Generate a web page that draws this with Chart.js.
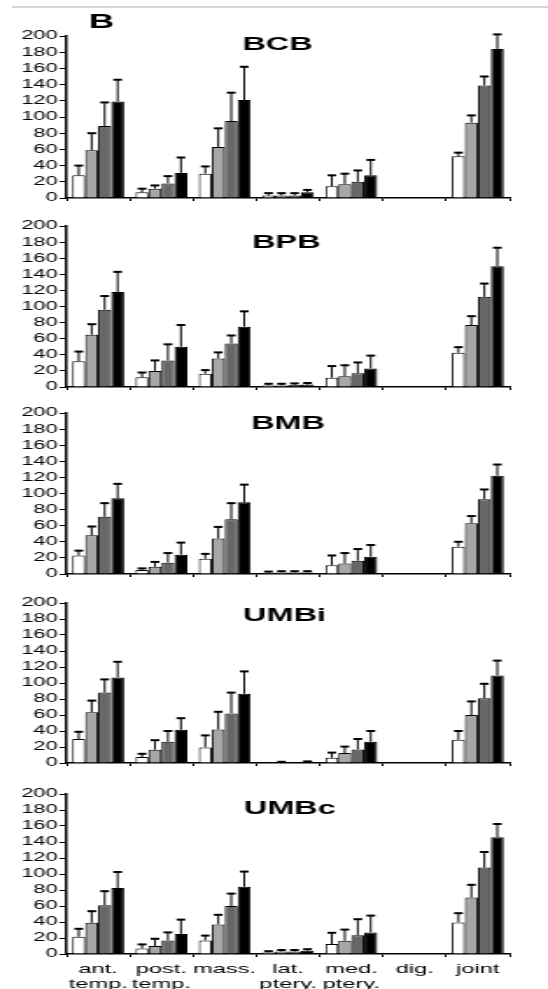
<!DOCTYPE html>
<html>
<head>
<meta charset="utf-8">
<script src="https://cdn.jsdelivr.net/npm/chart.js@4.4.1/dist/chart.umd.min.js"></script>
<style>
  html, body { margin: 0; padding: 0; background: #fff; }
  body { width: 548px; height: 989px; position: relative; overflow: hidden; }
  .rule { position: absolute; top: 6px; left: 12px; right: 0; height: 2px; background: #d6d6d6; }
  canvas { position: absolute; left: 0; }
</style>
</head>
<body>
<div class="rule"></div>
<div id="panels"></div>
<script>
// categories along x, shared by all five panels
const categories = [['ant.', 'temp.'], ['post.', 'temp.'], 'mass.', ['lat.', 'ptery.'], ['med.', 'ptery.'], 'dig.', 'joint'];
const yTicks = [0, 20, 40, 60, 80, 100, 120, 140, 160, 180, 200];
const panelNames = ['BCB', 'BPB', 'BMB', 'UMBi', 'UMBc'];
const seriesNames = ['series 1', 'series 2', 'series 3', 'series 4'];

// means (one row per series: white, light grey, dark grey, black)
const bcbMeans = [
  [28, 7, 30, 3, 14.5, 0, 51.5],
  [59, 11.5, 63, 3, 17, 0, 93],
  [89, 18, 95, 3, 20, 0, 139],
  [119, 31, 121, 7, 28, 1, 184]
];
const bcbErrors = [
  [12, 4.5, 9, 3, 13.5, 0, 4.5],
  [21, 4, 23, 3, 13, 0, 9],
  [29, 9, 35, 3, 14, 0, 11],
  [27, 19, 41, 3, 19, 0, 18]
];
const bpbMeans = [
  [32, 12, 16.5, 2, 11.5, 0, 42.5],
  [65, 20, 35.5, 2, 13.5, 0, 77],
  [96, 33, 54, 2.5, 17, 0, 112],
  [118, 50, 75, 3, 23, 1, 150]
];
const bpbErrors = [
  [12, 6, 4.5, 2, 14.5, 0, 7],
  [13, 13, 7.5, 2, 13.5, 0, 11],
  [17, 20, 10, 2, 13.5, 0, 16.5],
  [25, 27, 19, 2, 16, 0, 23]
];
const bmbMeans = [
  [23, 5, 19, 1.5, 11, 0, 34],
  [48, 9, 44, 2, 13, 0.5, 63],
  [71, 14, 68, 2, 16.5, 0, 93],
  [94, 24, 89, 2, 21.5, 0, 122]
];
const bmbErrors = [
  [6, 2, 6, 1.5, 12, 0, 6],
  [11, 6, 14.5, 1.5, 13, 0, 9],
  [17, 12, 20, 1.5, 14.5, 0, 12],
  [18, 15, 22, 1.5, 14.5, 0, 14]
];
const umbiMeans = [
  [30, 7.5, 19.5, 0.5, 6.5, 0, 29],
  [63.5, 16.5, 42, 1, 12.5, 0, 60],
  [88, 26.5, 62, 0.5, 17, 0, 81],
  [107, 41.5, 86.5, 1.5, 26.5, 0, 109.5]
];
const umbiErrors = [
  [9, 4, 15, 0, 6.5, 0, 11],
  [14.5, 12, 22, 0.5, 8, 0, 17],
  [16.5, 13.5, 26, 0, 13, 0, 18],
  [19.5, 14.5, 28, 0.5, 13.5, 0, 18.5]
];
const umbcMeans = [
  [21.5, 7, 17, 2, 12.5, 0, 39.5],
  [39, 10, 37, 3, 16.5, 0, 70.5],
  [61, 17, 60, 3, 23.5, 0, 108],
  [82.5, 25, 84, 4, 27, 0, 146]
];
const umbcErrors = [
  [10, 5, 6, 1.5, 14, 0, 11.5],
  [14.5, 9, 12, 2, 14, 0, 16],
  [17.5, 10, 15.5, 2, 20, 0, 19.5],
  [20, 18, 19, 2, 21, 0, 16.5]
];

const allMeans = [bcbMeans, bpbMeans, bmbMeans, umbiMeans, umbcMeans];
const allErrors = [bcbErrors, bpbErrors, bmbErrors, umbiErrors, umbcErrors];

const fills = ['#ffffff', '#a6a6a6', '#676767', '#000000'];
const FONT = '"Liberation Sans", Arial, sans-serif';

// the original figure is stretched sideways, so each canvas is drawn narrow and widened by css
const canvasW = 313;
const frames = [
  { top: 0,   height: 210, padTop: 36, axisH: 12, dx: -6, dy: 9 },
  { top: 210, height: 189, padTop: 16, axisH: 12, dx: -1, dy: 17 },
  { top: 399, height: 187, padTop: 14, axisH: 12, dx: 0,  dy: 11 },
  { top: 586, height: 189, padTop: 17, axisH: 12, dx: -2, dy: 13 },
  { top: 775, height: 214, padTop: 19, axisH: 35, dx: 1,  dy: 15 }
];

const errorBars = {
  id: 'errorBars',
  afterDatasetsDraw(chart) {
    const ctx = chart.ctx;
    const y = chart.scales.y;
    ctx.save();
    ctx.strokeStyle = '#000';
    chart.data.datasets.forEach((ds, i) => {
      chart.getDatasetMeta(i).data.forEach((bar, j) => {
        const sd = ds.errors[j];
        if (!sd) return;
        const base = y.getPixelForValue(ds.data[j]);
        const top = y.getPixelForValue(ds.data[j] + sd);
        ctx.lineWidth = 1;
        ctx.beginPath();
        ctx.moveTo(bar.x, base);
        ctx.lineTo(bar.x, top);
        ctx.stroke();
        ctx.lineWidth = 2;
        ctx.beginPath();
        ctx.moveTo(bar.x - 2.5, top);
        ctx.lineTo(bar.x + 2.5, top);
        ctx.stroke();
      });
    });
    ctx.restore();
  }
};

const panelText = {
  id: 'panelText',
  afterDraw(chart, args, opts) {
    const { ctx, chartArea } = chart;
    ctx.save();
    ctx.fillStyle = '#000';
    ctx.textAlign = 'center';
    ctx.textBaseline = 'middle';
    ctx.font = 'bold 18.5px ' + FONT;
    ctx.fillText(opts.title, (chartArea.left + chartArea.right) / 2 + opts.dx, chartArea.top + opts.dy);
    if (opts.letter) {
      ctx.font = 'bold 20px ' + FONT;
      ctx.fillText(opts.letter, 58, 22);
    }
    ctx.restore();
  }
};

const holder = document.getElementById('panels');

frames.forEach((f, p) => {
  const isLast = p === frames.length - 1;
  const canvas = document.createElement('canvas');
  canvas.width = canvasW;
  canvas.height = f.height;
  canvas.style.top = f.top + 'px';
  canvas.style.width = '548px';
  canvas.style.height = f.height + 'px';
  holder.appendChild(canvas);

  new Chart(canvas, {
    type: 'bar',
    data: {
      labels: categories,
      datasets: allMeans[p].map((m, k) => ({
        label: seriesNames[k],
        data: m,
        errors: allErrors[p][k],
        backgroundColor: fills[k],
        borderColor: '#000',
        borderWidth: 1,
        categoryPercentage: 0.82,
        barPercentage: 1
      }))
    },
    plugins: [errorBars, panelText],
    options: {
      responsive: false,
      animation: false,
      devicePixelRatio: 1,
      layout: { padding: { top: f.padTop, bottom: 0, left: 0, right: 22 } },
      plugins: {
        legend: { display: false },
        tooltip: { enabled: false },
        panelText: { title: panelNames[p], dx: f.dx, dy: f.dy, letter: p === 0 ? 'B' : '' }
      },
      scales: {
        x: {
          offset: true,
          grid: { drawOnChartArea: false, offset: true, tickLength: 3, color: '#000', lineWidth: 1 },
          border: { color: '#000', width: 1.5 },
          ticks: {
            display: isLast,
            color: '#000',
            font: { family: FONT, size: 13.5, lineHeight: 1.12 },
            padding: 5,
            maxRotation: 0,
            autoSkip: false
          },
          afterFit: s => { s.height = f.axisH; }
        },
        y: {
          min: 0,
          max: 200,
          afterBuildTicks: s => { s.ticks = yTicks.map(v => ({ value: v })); },
          grid: { drawOnChartArea: false, tickLength: 4, color: '#000', lineWidth: 1 },
          border: { color: '#000', width: 1.5 },
          ticks: { color: '#000', font: { family: FONT, size: 12.5 }, padding: 1, autoSkip: false },
          afterFit: s => { s.width = 38; }
        }
      }
    }
  });
});
</script>
</body>
</html>
